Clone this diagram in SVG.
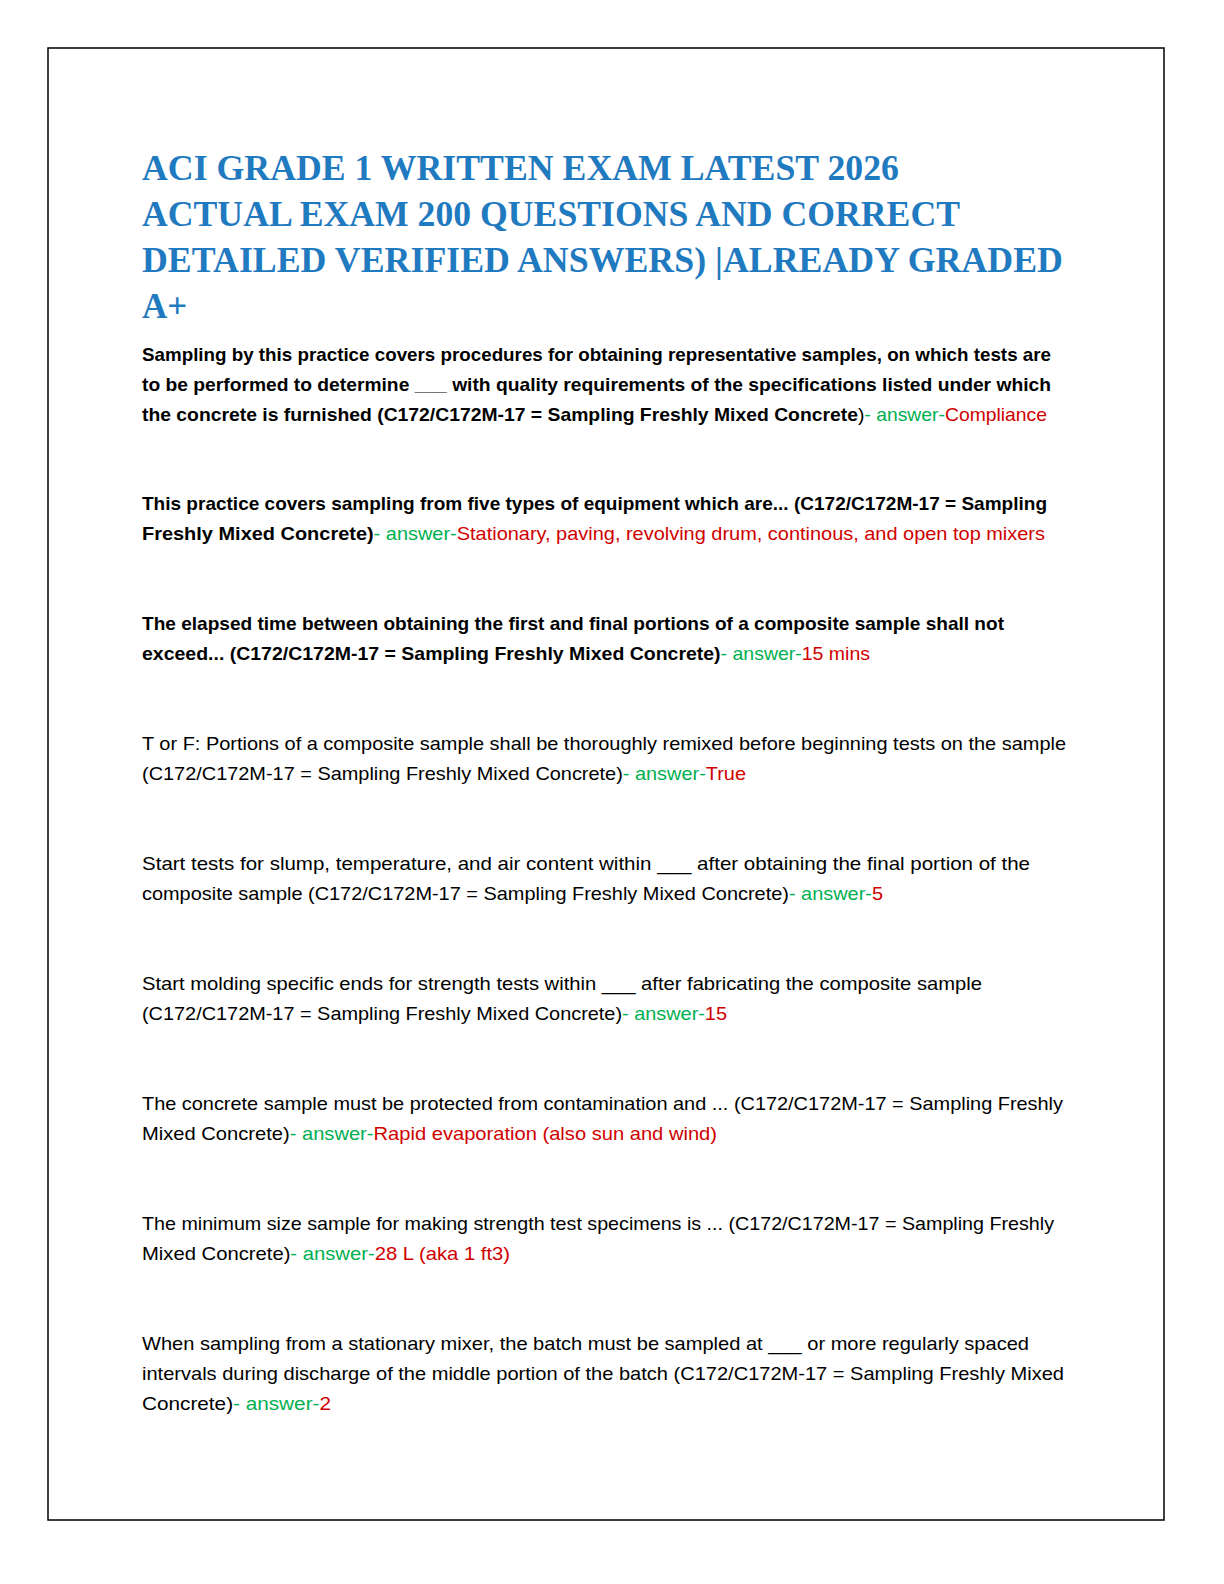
<svg xmlns="http://www.w3.org/2000/svg" width="1224" height="1584" viewBox="0 0 1224 1584">
<style>
.t{font-family:"Liberation Serif",serif;font-weight:bold;font-size:35px;fill:#1F7AC0}
.b{font-family:"Liberation Sans",sans-serif;font-size:18.5px;fill:#000}
.q{font-weight:bold}
.g{fill:#00B050;font-weight:normal}
.r{fill:#D00000;font-weight:normal}
</style>
<rect x="48" y="48" width="1116" height="1472" fill="#fff" stroke="#000" stroke-width="1.5"/>
<g id="title">
<text class="t" x="142" y="180" textLength="757" lengthAdjust="spacingAndGlyphs">ACI GRADE 1 WRITTEN EXAM LATEST 2026</text>
<text class="t" x="142" y="226" textLength="818" lengthAdjust="spacingAndGlyphs">ACTUAL EXAM 200 QUESTIONS AND CORRECT</text>
<text class="t" x="142" y="272" textLength="921" lengthAdjust="spacingAndGlyphs">DETAILED VERIFIED ANSWERS) |ALREADY GRADED</text>
<text class="t" x="142" y="318">A+</text>
</g>
<g id="q1" class="b">
<text x="142" y="361" class="q" textLength="909" lengthAdjust="spacingAndGlyphs">Sampling by this practice covers procedures for obtaining representative samples, on which tests are</text>
<text x="142" y="391" class="q" textLength="909" lengthAdjust="spacingAndGlyphs">to be performed to determine ___ with quality requirements of the specifications listed under which</text>
<text x="142" y="421" textLength="905" lengthAdjust="spacingAndGlyphs"><tspan class="q">the concrete is furnished (C172/C172M-17 = Sampling Freshly Mixed Concrete</tspan>)<tspan class="g">- answer-</tspan><tspan class="r">Compliance</tspan></text>
</g>
<g id="q2" class="b">
<text x="142" y="510" class="q" textLength="905" lengthAdjust="spacingAndGlyphs">This practice covers sampling from five types of equipment which are... (C172/C172M-17 = Sampling</text>
<text x="142" y="540" textLength="903" lengthAdjust="spacingAndGlyphs"><tspan class="q">Freshly Mixed Concrete)</tspan><tspan class="g">- answer-</tspan><tspan class="r">Stationary, paving, revolving drum, continous, and open top mixers</tspan></text>
</g>
<g id="q3" class="b">
<text x="142" y="630" class="q" textLength="862" lengthAdjust="spacingAndGlyphs">The elapsed time between obtaining the first and final portions of a composite sample shall not</text>
<text x="142" y="660" textLength="728" lengthAdjust="spacingAndGlyphs"><tspan class="q">exceed... (C172/C172M-17 = Sampling Freshly Mixed Concrete)</tspan><tspan class="g">- answer-</tspan><tspan class="r">15 mins</tspan></text>
</g>
<g id="q4" class="b">
<text x="142" y="750" textLength="924" lengthAdjust="spacingAndGlyphs">T or F: Portions of a composite sample shall be thoroughly remixed before beginning tests on the sample</text>
<text x="142" y="780" textLength="604" lengthAdjust="spacingAndGlyphs">(C172/C172M-17 = Sampling Freshly Mixed Concrete)<tspan class="g">- answer-</tspan><tspan class="r">True</tspan></text>
</g>
<g id="q5" class="b">
<text x="142" y="870" textLength="888" lengthAdjust="spacingAndGlyphs">Start tests for slump, temperature, and air content within ___ after obtaining the final portion of the</text>
<text x="142" y="900" textLength="741" lengthAdjust="spacingAndGlyphs">composite sample (C172/C172M-17 = Sampling Freshly Mixed Concrete)<tspan class="g">- answer-</tspan><tspan class="r">5</tspan></text>
</g>
<g id="q6" class="b">
<text x="142" y="990" textLength="840" lengthAdjust="spacingAndGlyphs">Start molding specific ends for strength tests within ___ after fabricating the composite sample</text>
<text x="142" y="1020" textLength="585" lengthAdjust="spacingAndGlyphs">(C172/C172M-17 = Sampling Freshly Mixed Concrete)<tspan class="g">- answer-</tspan><tspan class="r">15</tspan></text>
</g>
<g id="q7" class="b">
<text x="142" y="1110" textLength="921" lengthAdjust="spacingAndGlyphs">The concrete sample must be protected from contamination and ... (C172/C172M-17 = Sampling Freshly</text>
<text x="142" y="1140" textLength="575" lengthAdjust="spacingAndGlyphs">Mixed Concrete)<tspan class="g">- answer-</tspan><tspan class="r">Rapid evaporation (also sun and wind)</tspan></text>
</g>
<g id="q8" class="b">
<text x="142" y="1230" textLength="912" lengthAdjust="spacingAndGlyphs">The minimum size sample for making strength test specimens is ... (C172/C172M-17 = Sampling Freshly</text>
<text x="142" y="1260" textLength="368" lengthAdjust="spacingAndGlyphs">Mixed Concrete)<tspan class="g">- answer-</tspan><tspan class="r">28 L (aka 1 ft3)</tspan></text>
</g>
<g id="q9" class="b">
<text x="142" y="1350" textLength="887" lengthAdjust="spacingAndGlyphs">When sampling from a stationary mixer, the batch must be sampled at ___ or more regularly spaced</text>
<text x="142" y="1380" textLength="922" lengthAdjust="spacingAndGlyphs">intervals during discharge of the middle portion of the batch (C172/C172M-17 = Sampling Freshly Mixed</text>
<text x="142" y="1410" textLength="189" lengthAdjust="spacingAndGlyphs">Concrete)<tspan class="g">- answer-</tspan><tspan class="r">2</tspan></text>
</g>
</svg>
